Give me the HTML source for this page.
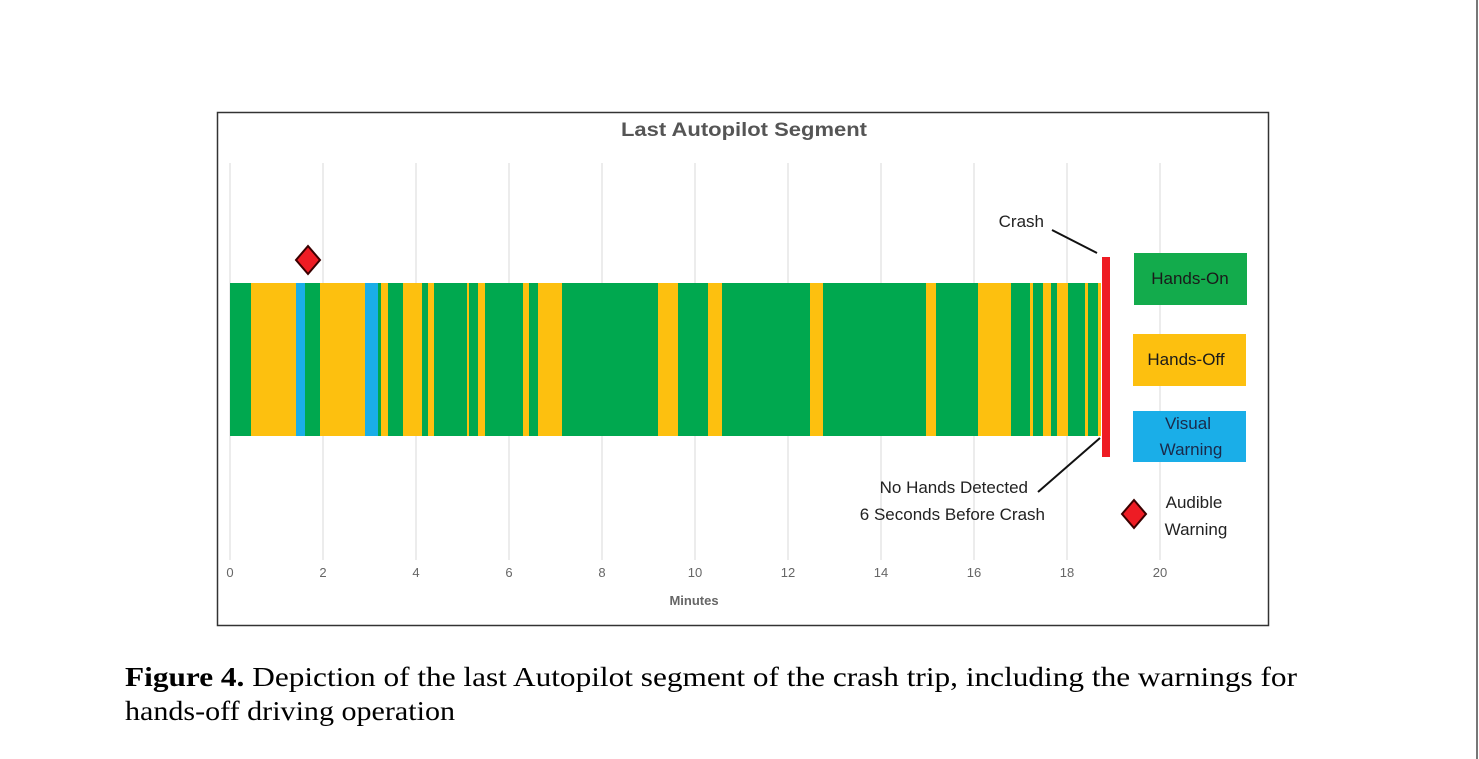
<!DOCTYPE html>
<html><head><meta charset="utf-8"><style>
html,body{margin:0;padding:0;background:#fff;}
svg{display:block;}
</style></head><body>
<svg width="1479" height="759" viewBox="0 0 1479 759" xmlns="http://www.w3.org/2000/svg">
<rect width="1479" height="759" fill="#fff"/>
<line x1="1477" y1="0" x2="1477" y2="759" stroke="#777" stroke-width="2"/>
<rect x="217.5" y="112.5" width="1051" height="513" fill="#fff" stroke="#333" stroke-width="1.5"/>
<text x="621" y="136" textLength="246" lengthAdjust="spacingAndGlyphs" font-family="Liberation Sans, sans-serif" font-size="19" font-weight="bold" fill="#555">Last Autopilot Segment</text>
<g stroke="#d9d9d9" stroke-width="1">
<line x1="230" y1="163" x2="230" y2="560"/><line x1="323" y1="163" x2="323" y2="560"/>
<line x1="416" y1="163" x2="416" y2="560"/><line x1="509" y1="163" x2="509" y2="560"/>
<line x1="602" y1="163" x2="602" y2="560"/><line x1="695" y1="163" x2="695" y2="560"/>
<line x1="788" y1="163" x2="788" y2="560"/><line x1="881" y1="163" x2="881" y2="560"/>
<line x1="974" y1="163" x2="974" y2="560"/><line x1="1067" y1="163" x2="1067" y2="560"/>
<line x1="1160" y1="163" x2="1160" y2="560"/>
</g>
<g font-family="Liberation Sans, sans-serif" font-size="13" fill="#666" text-anchor="middle">
<text x="230" y="577">0</text><text x="323" y="577">2</text><text x="416" y="577">4</text><text x="509" y="577">6</text><text x="602" y="577">8</text><text x="695" y="577">10</text><text x="788" y="577">12</text><text x="881" y="577">14</text><text x="974" y="577">16</text><text x="1067" y="577">18</text><text x="1160" y="577">20</text>
<text x="694" y="605" font-weight="bold" font-size="13">Minutes</text>
</g>
<g>
<rect x="230" y="283" width="870" height="153" fill="#00a84f"/>
<g fill="#fdc00f">
<rect x="251" y="283" width="45" height="153"/>
<rect x="320" y="283" width="45" height="153"/>
<rect x="381" y="283" width="7" height="153"/>
<rect x="403" y="283" width="19" height="153"/>
<rect x="428" y="283" width="6" height="153"/>
<rect x="467" y="283" width="2" height="153"/>
<rect x="478" y="283" width="7" height="153"/>
<rect x="523" y="283" width="6" height="153"/>
<rect x="538" y="283" width="24" height="153"/>
<rect x="658" y="283" width="20" height="153"/>
<rect x="708" y="283" width="14" height="153"/>
<rect x="810" y="283" width="13" height="153"/>
<rect x="926" y="283" width="10" height="153"/>
<rect x="978" y="283" width="33" height="153"/>
<rect x="1030" y="283" width="3" height="153"/>
<rect x="1043" y="283" width="8" height="153"/>
<rect x="1057" y="283" width="11" height="153"/>
<rect x="1085" y="283" width="3" height="153"/>
<rect x="1098" y="283" width="3" height="153"/>
</g>
<g fill="#1aaee8">
<rect x="296" y="283" width="9" height="153"/>
<rect x="365" y="283" width="13" height="153"/>
</g>
<rect x="1102" y="257" width="8" height="200" fill="#ee1c24"/>
</g>
<polygon points="308,246 320,260 308,274 296,260" fill="#ee1c24" stroke="#3a0000" stroke-width="2"/>
<polygon points="1134,500 1146,514 1134,528 1122,514" fill="#ee1c24" stroke="#3a0000" stroke-width="2"/>
<line x1="1052" y1="230" x2="1097" y2="253" stroke="#111" stroke-width="2"/>
<line x1="1038" y1="492" x2="1100" y2="438" stroke="#111" stroke-width="2"/>
<g font-family="Liberation Sans, sans-serif" font-size="17" fill="#222">
<text x="1044" y="227" text-anchor="end">Crash</text>
<text x="1028" y="493" text-anchor="end">No Hands Detected</text>
<text x="1045" y="520" text-anchor="end">6 Seconds Before Crash</text>
<text x="1194" y="508" text-anchor="middle">Audible</text>
<text x="1196" y="535" text-anchor="middle">Warning</text>
</g>
<rect x="1134" y="253" width="113" height="52" fill="#13ab4c"/>
<rect x="1133" y="334" width="113" height="52" fill="#fdc00f"/>
<rect x="1133" y="411" width="113" height="51" fill="#1aaee8"/>
<g font-family="Liberation Sans, sans-serif" font-size="17" fill="#1a1a1a" text-anchor="middle">
<text x="1190" y="284">Hands-On</text>
<text x="1186" y="365">Hands-Off</text>
<text x="1188" y="429" fill="#1a2a4a">Visual</text>
<text x="1191" y="455" fill="#1a2a4a">Warning</text>
</g>
<g font-family="Liberation Serif, serif" font-size="27" fill="#000">
<text x="125" y="686" textLength="1172" lengthAdjust="spacingAndGlyphs"><tspan font-weight="bold">Figure 4.</tspan> Depiction of the last Autopilot segment of the crash trip, including the warnings for</text>
<text x="125" y="720" textLength="330" lengthAdjust="spacingAndGlyphs">hands-off driving operation</text>
</g>
</svg>
</body></html>
